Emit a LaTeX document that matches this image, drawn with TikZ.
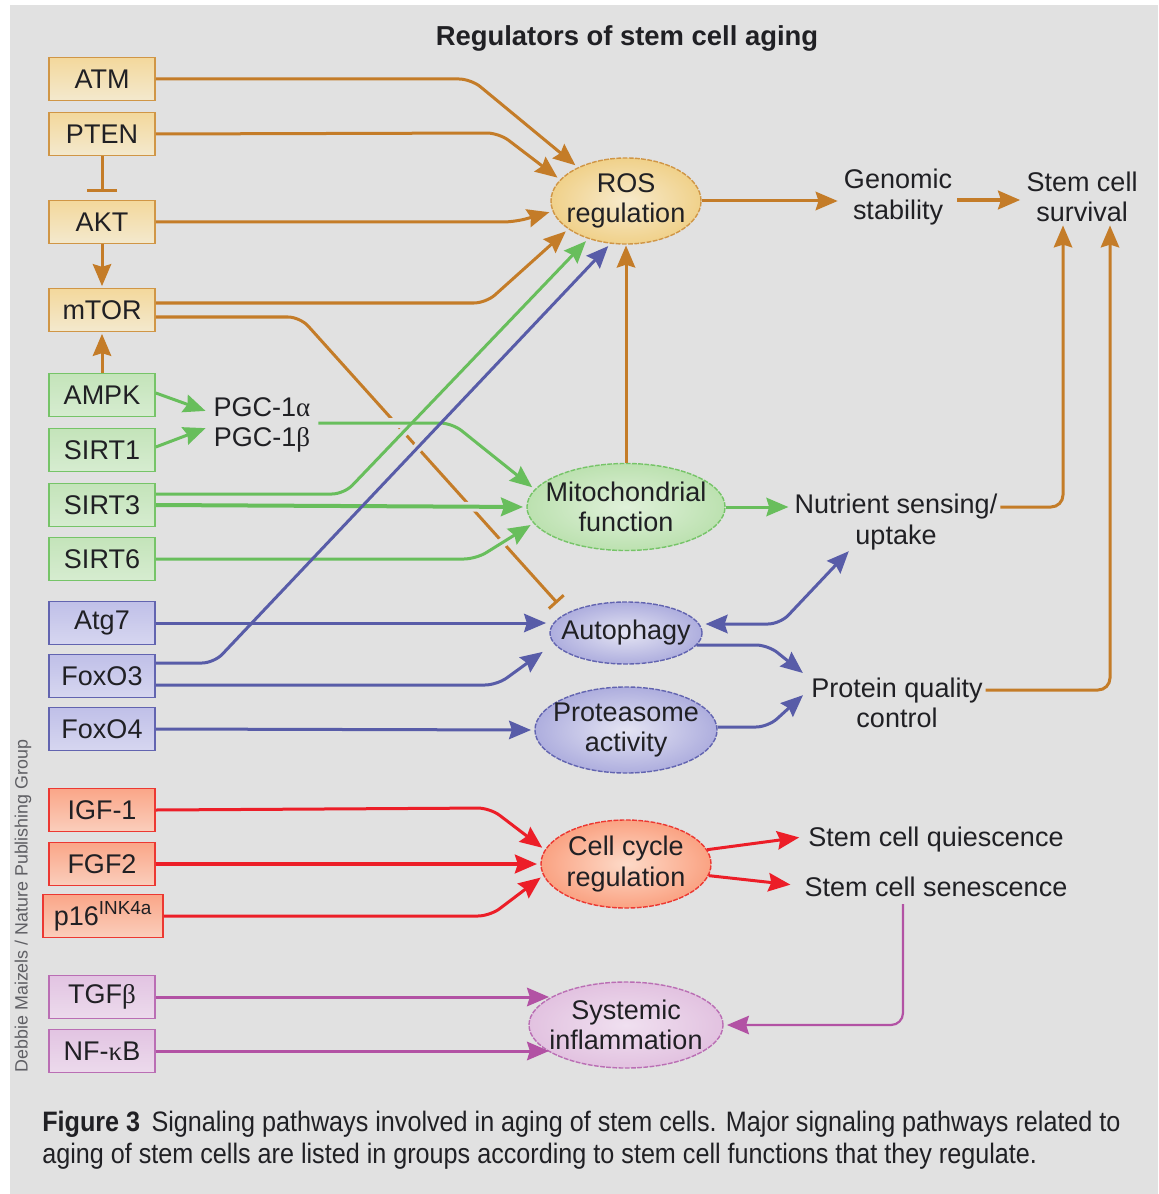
\documentclass[tikz,border=0pt]{standalone}
\usepackage{graphicx}
\usepackage{fontspec}
\setmainfont{Liberation Sans}
\newfontfamily\grk{Liberation Serif}
\usetikzlibrary{shapes.geometric,arrows.meta,calc}

% palette
\definecolor{bgc}{RGB}{225,225,225}
\definecolor{txtc}{RGB}{32,32,36}
\definecolor{oline}{RGB}{196,124,40}
\definecolor{oborder}{RGB}{208,150,70}
\definecolor{otop}{RGB}{243,216,156}
\definecolor{obot}{RGB}{243,233,206}
\definecolor{oin}{RGB}{247,234,204}
\definecolor{oout}{RGB}{240,209,138}
\definecolor{gline}{RGB}{104,190,92}
\definecolor{gborder}{RGB}{118,196,104}
\definecolor{gtop}{RGB}{196,228,186}
\definecolor{gbot}{RGB}{214,236,208}
\definecolor{gin}{RGB}{224,241,218}
\definecolor{gout}{RGB}{188,225,176}
\definecolor{bline}{RGB}{88,92,168}
\definecolor{bborder}{RGB}{98,100,176}
\definecolor{btop}{RGB}{192,192,232}
\definecolor{bbot}{RGB}{214,214,240}
\definecolor{bin}{RGB}{228,228,243}
\definecolor{bout}{RGB}{174,174,222}
\definecolor{rline}{RGB}{236,30,40}
\definecolor{rborder}{RGB}{236,56,50}
\definecolor{rtop}{RGB}{250,166,136}
\definecolor{rbot}{RGB}{250,206,188}
\definecolor{rin}{RGB}{253,218,200}
\definecolor{rout}{RGB}{250,162,130}
\definecolor{pline}{RGB}{178,82,164}
\definecolor{pborder}{RGB}{186,110,180}
\definecolor{ptop}{RGB}{226,196,226}
\definecolor{pbot}{RGB}{236,218,236}
\definecolor{pin}{RGB}{240,224,240}
\definecolor{pout}{RGB}{226,194,224}

\newcommand\lblfont{\fontsize{19.2pt}{21.6pt}\selectfont}
\newcommand\capfont{\fontsize{20pt}{23pt}\selectfont}

\tikzset{
  ahead/.tip={Stealth[length=0.55cm,width=0.46cm,inset=0.07cm]},
  regbox/.style={rectangle, draw=#1border, top color=#1top, bottom color=#1bot,
    line width=0.04cm, minimum width=2.65cm, minimum height=1.075cm,
    inner sep=0pt, font=\lblfont, text=txtc},
  regell/.style={ellipse, draw=#1border, line width=0.035cm,
    dash pattern=on 0.12cm off 0.035cm,
    inner color=#1in, outer color=#1out, inner sep=0pt},
  inlabel/.style={label={[align=center, font=\lblfont, text=txtc]center:#1}},
  txt/.style={align=center, font=\lblfont, text=txtc, inner sep=2pt},
  conn/.style={line width=0.075cm, -ahead, rounded corners=0.3cm, shorten >=0.08cm},
  halo/.style={draw=bgc, line width=0.24cm, rounded corners=0.3cm,
    shorten >=0.5cm, shorten <=0.3cm},
}

\begin{document}
\begin{tikzpicture}[x=0.025cm, y=-0.025cm]
  \useasboundingbox (0,0) rectangle (1158,1194);
  \fill[white] (0,0) rectangle (1158,1194);
  \fill[bgc] (10,5) rectangle (1158,1194);

  % heading
  \node[font=\bfseries\fontsize{19.5pt}{22pt}\selectfont, text=txtc] (title) at (627,38) {Regulators of stem cell aging};

  % regulator boxes
  \node[regbox=o] (atm)   at (102,79)  {ATM};
  \node[regbox=o] (pten)  at (102,134) {PTEN};
  \node[regbox=o] (akt)   at (102,222) {AKT};
  \node[regbox=o] (mtor)  at (102,310) {mTOR};
  \node[regbox=g] (ampk)  at (102,395) {AMPK};
  \node[regbox=g] (sirt1) at (102,450) {SIRT1};
  \node[regbox=g] (sirt3) at (102,505) {SIRT3};
  \node[regbox=g] (sirt6) at (102,559) {SIRT6};
  \node[regbox=b] (atg7)  at (102,623) {Atg7};
  \node[regbox=b] (foxo3) at (102,676) {FoxO3};
  \node[regbox=b] (foxo4) at (102,729) {FoxO4};
  \node[regbox=r] (igf)   at (102,810) {IGF-1};
  \node[regbox=r] (fgf)   at (102,864) {FGF2};
  \node[regbox=r, minimum width=3.0cm] (p16) at (103,916) {p16\textsuperscript{INK4a}};
  \node[regbox=p] (tgf)   at (102,997) {TGF{\grk β}};
  \node[regbox=p] (nfkb)  at (102,1051) {NF-{\grk κ}B};

  % cellular processes
  \node[regell=o, minimum width=3.75cm, minimum height=2.15cm, inlabel={ROS\\regulation}] (ros) at (626,201) {};
  \node[regell=g, minimum width=4.95cm, minimum height=2.175cm, inlabel={Mitochondrial\\function}] (mito) at (626,507) {};
  \node[regell=b, minimum width=3.8cm, minimum height=1.55cm, inlabel={Autophagy}] (auto) at (626,633) {};
  \node[regell=b, minimum width=4.55cm, minimum height=2.15cm, inlabel={Proteasome\\activity}] (prot) at (626,730) {};
  \node[regell=r, minimum width=4.25cm, minimum height=2.2cm, inlabel={Cell cycle\\regulation}] (ccr) at (626,864) {};
  \node[regell=p, minimum width=4.85cm, minimum height=2.15cm, inlabel={Systemic\\inflammation}] (sys) at (626,1025) {};

  % outcomes
  \node[txt] (pgc)  at (262,425) {\fontsize{19.2pt}{18.5pt}\selectfont PGC-1{\grk α}\\PGC-1{\grk β}};
  \node[txt] (gen)  at (898,197) {Genomic\\stability};
  \node[txt] (surv) at (1082,197) {Stem cell\\survival};
  \node[txt] (nutr) at (896,522) {Nutrient sensing/\\uptake};
  \node[txt] (pqc)  at (897,703) {Protein quality\\control};
  \node[txt] (qui)  at (936,840) {Stem cell quiescence};
  \node[txt] (sen)  at (936,887) {Stem cell senescence};

  % credit line
  \node[rotate=90, font=\fontsize{12.7pt}{14pt}\selectfont, text={rgb,255:red,95;green,95;blue,100}] (credit) at (23,906) {Debbie Maizels / Nature Publishing Group};

  % mTOR inhibits autophagy (drawn first, crossed by the lines above it)
  \draw[oline, line width=0.075cm, rounded corners=0.3cm, -{Bar[width=0.5cm]}]
    ($(mtor.east)+(0,7)$) -- (300,317) -- ($(auto.west)+(8,-30)$);

  % gaps where lines pass over the inhibition line
  \draw[halo] ($(pgc.east)+(5,-2)$) -- (452,423) -- (mito.169);
  \draw[halo] ($(sirt3.east)+(0,-11)$) -- (344,494) -- (ros.225);
  \draw[halo] (sirt3.east) -- (mito.west);
  \draw[halo] (sirt6.east) -- (476,559) -- (mito.190);
  \draw[halo] ($(foxo3.east)+(0,-13)$) -- (214,663) -- (ros.250);

  % orange connectors
  \draw[conn, draw=oline] (atm.east) -- (471,79) -- (ros.145);
  \draw[conn, draw=oline] (pten.east) -- (499,133) -- (ros.162);
  \draw[conn, draw=oline] (akt.east) -- (515,222) -- (ros.188);
  \draw[conn, draw=oline] ($(mtor.east)+(0,-7)$) -- (486,303) -- (ros.206);
  \draw[oline, line width=0.075cm, -{Bar[width=0.75cm]}] (pten.south) -- ($(akt.north)+(0,-8)$);
  \draw[conn, draw=oline, shorten >=0.04cm] (akt.south) -- (mtor.north);
  \draw[conn, draw=oline, shorten >=0.04cm] (ampk.north) -- (mtor.south);
  \draw[conn, draw=oline, shorten >=0.02cm] (mito.north) -- (ros.south);
  \draw[conn, draw=oline] (ros.east) -- (gen.west |- ros.east);
  \draw[conn, draw=oline, line width=0.11cm] ($(gen.east)+(2,3)$) -- ($(surv.west)+(0,3)$);
  \draw[conn, draw=oline] (nutr.east |- mito.east) -| ($(surv.south)+(-19,-3)$);
  \draw[conn, draw=oline] ($(pqc.east)+(0,-13)$) -| ($(surv.south)+(28,-3)$);

  % green connectors
  \draw[conn, draw=gline] ($(ampk.east)+(0,-2)$) -- ($(pgc.west)+(-2,-13)$);
  \draw[conn, draw=gline] ($(sirt1.east)+(0,-3)$) -- ($(pgc.west)+(-2,2)$);
  \draw[conn, draw=gline] ($(pgc.east)+(5,-2)$) -- (452,423) -- (mito.169);
  \draw[conn, draw=gline] ($(sirt3.east)+(0,-11)$) -- (344,494) -- (ros.225);
  \draw[conn, draw=gline, line width=0.1cm] (sirt3.east) -- (mito.west);
  \draw[conn, draw=gline] (sirt6.east) -- (476,559) -- (mito.190);
  \draw[conn, draw=gline] (mito.east) -- (nutr.west |- mito.east);

  % blue connectors
  \draw[conn, draw=bline] (atg7.east) -- (atg7.east -| auto.west);
  \draw[conn, draw=bline] ($(foxo3.east)+(0,-13)$) -- (214,663) -- (ros.250);
  \draw[conn, draw=bline] ($(foxo3.east)+(0,9)$) -- (497,685) -- ($(auto.west)+(-4,17)$);
  \draw[conn, draw=bline] (foxo4.east) -- (prot.west);
  \draw[conn, draw=bline, {ahead}-{ahead}, shorten <=0.02cm]
    ($(auto.east)+(2,-9)$) -- (780,624) -- ($(nutr.south)+(-45,-4)$);
  \draw[conn, draw=bline] ($(auto.east)+(-6,12)$) -- (768,645) -- ($(pqc.west)+(-3,-28)$);
  \draw[conn, draw=bline] ($(prot.east)+(0,-3)$) -- (768,727) -- ($(pqc.west)+(-3,-10)$);

  % red connectors
  \draw[conn, draw=rline] (igf.east) -- (490,808) -- (ccr.170);
  \draw[conn, draw=rline, line width=0.11cm] (fgf.east) -- (ccr.west);
  \draw[conn, draw=rline] (p16.east) -- (490,916) -- (ccr.188);
  \draw[conn, draw=rline] (ccr.10) -- ($(qui.west)+(-3,-3)$);
  \draw[conn, draw=rline] (ccr.-8) -- ($(sen.west)+(-8,-2)$);

  % purple connectors
  \draw[conn, draw=pline] (tgf.east) -- ($(tgf.east -| sys.west)+(24,0)$);
  \draw[conn, draw=pline] (nfkb.east) -- ($(nfkb.east -| sys.west)+(24,0)$);
  \draw[conn, draw=pline, line width=0.055cm] ($(sen.south)+(-33,4)$) |- (sys.east);

  % caption
  \node[anchor=base west, inner sep=0pt, text=txtc] (cap1) at (42,1131)
    {\capfont\scalebox{0.895}[1]{\textbf{Figure 3}\hspace{0.45em}Signaling pathways involved in aging of stem cells. Major signaling pathways related to}};
  \node[anchor=base west, inner sep=0pt, text=txtc] (cap2) at (42,1163)
    {\capfont\scalebox{0.895}[1]{aging of stem cells are listed in groups according to stem cell functions that they regulate.}};
\end{tikzpicture}
\end{document}
